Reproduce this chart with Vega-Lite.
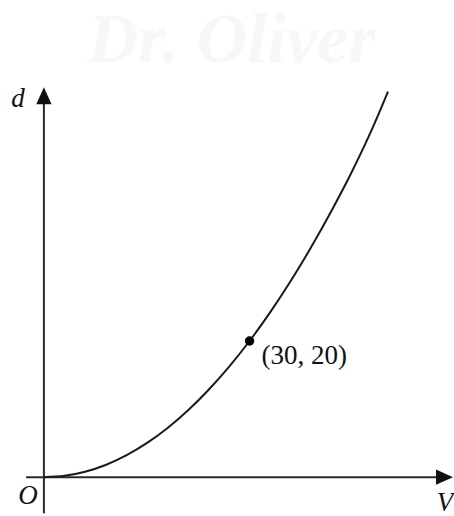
{
  "$schema": "https://vega.github.io/schema/vega-lite/v6.json",
  "width": 454,
  "height": 516,
  "autosize": {"type": "fit", "contains": "padding"},
  "padding": 0,
  "background": "white",
  "config": {"view": {"stroke": null}},
  "datasets": {
    "curve": [
      {"V": 0, "d": 0}, {"V": 3, "d": 0.2}, {"V": 6, "d": 0.8}, {"V": 9, "d": 1.8},
      {"V": 12, "d": 3.2}, {"V": 15, "d": 5.0}, {"V": 18, "d": 7.2}, {"V": 21, "d": 9.8},
      {"V": 24, "d": 12.8}, {"V": 27, "d": 16.2}, {"V": 30, "d": 20}, {"V": 33, "d": 24.2},
      {"V": 36, "d": 28.8}, {"V": 39, "d": 33.8}, {"V": 42, "d": 39.2}, {"V": 45, "d": 45.0},
      {"V": 48, "d": 51.4}, {"V": 50.2, "d": 56.6}
    ],
    "axes": [
      {"name": "V", "x1": -2.6, "x2": 57.4, "y1": 0, "y2": 0},
      {"name": "d", "x1": 0, "x2": 0, "y1": -5.3, "y2": 54.8}
    ],
    "arrows": [
      {"name": "V", "V": 58.44, "d": 0},
      {"name": "d", "V": 0, "d": 56.0}
    ],
    "labels": [
      {"text": "d", "V": -3.78, "d": 54.3},
      {"text": "O", "V": -2.33, "d": -3.94},
      {"text": "V", "V": 58.5, "d": -4.96}
    ],
    "pt": [{"V": 30, "d": 20, "label": "(30, 20)"}],
    "wm": [{"V": 27.4, "d": 61.0, "text": "Dr. Oliver"}]
  },
  "layer": [
    {
      "data": {"name": "wm"},
      "mark": {"type": "text", "font": "Liberation Serif", "fontStyle": "italic", "fontWeight": "bold", "fontSize": 70, "color": "#f7f7f7", "align": "center", "baseline": "alphabetic"},
      "encoding": {
        "x": {"field": "V", "type": "quantitative", "scale": {"domain": [-6.405, 59.68], "nice": false, "zero": false}, "axis": null},
        "y": {"field": "d", "type": "quantitative", "scale": {"domain": [-5.255, 70.07], "nice": false, "zero": false}, "axis": null},
        "text": {"field": "text"}
      }
    },
    {
      "data": {"name": "axes"},
      "mark": {"type": "rule", "color": "#2a2a2a", "strokeWidth": 2},
      "encoding": {
        "x": {"field": "x1", "type": "quantitative"},
        "x2": {"field": "x2"},
        "y": {"field": "y1", "type": "quantitative"},
        "y2": {"field": "y2"}
      }
    },
    {
      "data": {"name": "arrows"},
      "transform": [{"filter": "datum.name == 'V'"}],
      "mark": {"type": "point", "shape": "M 1 0 L -1 -0.9 L -1 0.9 Z", "size": 289, "filled": true, "color": "#111", "opacity": 1},
      "encoding": {
        "x": {"field": "V", "type": "quantitative"},
        "y": {"field": "d", "type": "quantitative"}
      }
    },
    {
      "data": {"name": "arrows"},
      "transform": [{"filter": "datum.name == 'd'"}],
      "mark": {"type": "point", "shape": "M 0 -1 L 0.9 1 L -0.9 1 Z", "size": 289, "filled": true, "color": "#111", "opacity": 1},
      "encoding": {
        "x": {"field": "V", "type": "quantitative"},
        "y": {"field": "d", "type": "quantitative"}
      }
    },
    {
      "data": {"name": "curve"},
      "mark": {"type": "line", "color": "#1a1a1a", "strokeWidth": 2, "interpolate": "monotone"},
      "encoding": {
        "x": {"field": "V", "type": "quantitative"},
        "y": {"field": "d", "type": "quantitative"}
      }
    },
    {
      "data": {"name": "pt"},
      "mark": {"type": "circle", "size": 90, "color": "#000", "opacity": 1},
      "encoding": {
        "x": {"field": "V", "type": "quantitative"},
        "y": {"field": "d", "type": "quantitative"}
      }
    },
    {
      "data": {"name": "pt"},
      "mark": {"type": "text", "font": "Liberation Serif", "fontSize": 27, "color": "#111", "align": "left", "baseline": "alphabetic", "dx": 12, "dy": 23},
      "encoding": {
        "x": {"field": "V", "type": "quantitative"},
        "y": {"field": "d", "type": "quantitative"},
        "text": {"field": "label"}
      }
    },
    {
      "data": {"name": "labels"},
      "mark": {"type": "text", "font": "Liberation Serif", "fontStyle": "italic", "fontSize": 27, "color": "#111", "align": "center", "baseline": "alphabetic"},
      "encoding": {
        "x": {"field": "V", "type": "quantitative"},
        "y": {"field": "d", "type": "quantitative"},
        "text": {"field": "text"}
      }
    }
  ]
}
